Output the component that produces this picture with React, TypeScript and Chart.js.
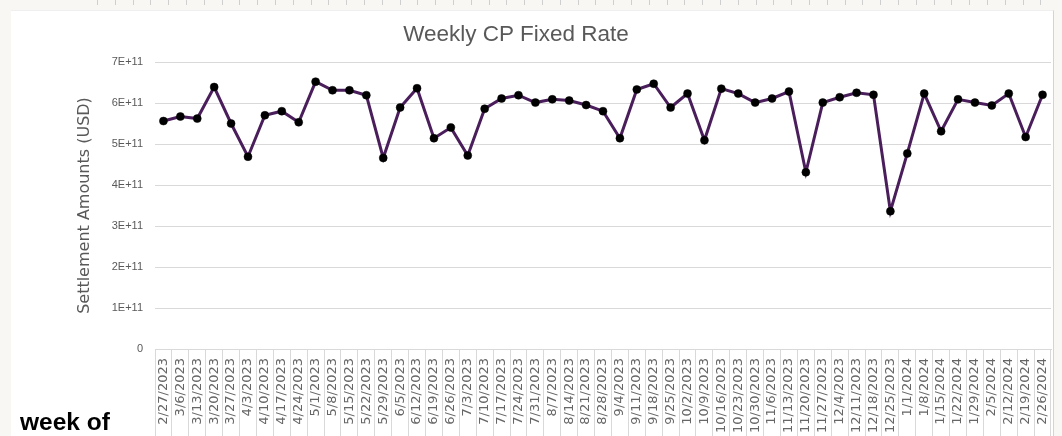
import React, { useEffect, useRef } from 'react';
import { Chart, registerables } from 'chart.js';

Chart.register(...registerables);

const chartTitle = 'Weekly CP Fixed Rate';
const yAxisTitle = 'Settlement Amounts (USD)';
const xCaption = 'week of';

const weeks = [
  '2/27/2023', '3/6/2023', '3/13/2023', '3/20/2023', '3/27/2023', '4/3/2023', '4/10/2023',
  '4/17/2023', '4/24/2023', '5/1/2023', '5/8/2023', '5/15/2023', '5/22/2023', '5/29/2023',
  '6/5/2023', '6/12/2023', '6/19/2023', '6/26/2023', '7/3/2023', '7/10/2023', '7/17/2023',
  '7/24/2023', '7/31/2023', '8/7/2023', '8/14/2023', '8/21/2023', '8/28/2023', '9/4/2023',
  '9/11/2023', '9/18/2023', '9/25/2023', '10/2/2023', '10/9/2023', '10/16/2023', '10/23/2023',
  '10/30/2023', '11/6/2023', '11/13/2023', '11/20/2023', '11/27/2023', '12/4/2023', '12/11/2023',
  '12/18/2023', '12/25/2023', '1/1/2024', '1/8/2024', '1/15/2024', '1/22/2024', '1/29/2024',
  '2/5/2024', '2/12/2024', '2/19/2024', '2/26/2024',
];

const settlement = [
  5.56e11, 5.67e11, 5.62e11, 6.39e11, 5.50e11, 4.69e11, 5.70e11,
  5.80e11, 5.53e11, 6.52e11, 6.31e11, 6.31e11, 6.19e11, 4.66e11,
  5.89e11, 6.36e11, 5.14e11, 5.40e11, 4.72e11, 5.86e11, 6.11e11,
  6.19e11, 6.01e11, 6.09e11, 6.06e11, 5.95e11, 5.80e11, 5.14e11,
  6.33e11, 6.47e11, 5.89e11, 6.23e11, 5.09e11, 6.35e11, 6.23e11,
  6.01e11, 6.11e11, 6.28e11, 4.31e11, 6.01e11, 6.14e11, 6.25e11,
  6.20e11, 3.36e11, 4.77e11, 6.23e11, 5.31e11, 6.09e11, 6.01e11,
  5.94e11, 6.23e11, 5.17e11, 6.20e11,
];

const yTickLabels = ['0', '1E+11', '2E+11', '3E+11', '4E+11', '5E+11', '6E+11', '7E+11'];
const yMin = 0;
const yMax = 7e11;
const yStep = 1e11;

export default function App() {
  const canvasRef = useRef<HTMLCanvasElement | null>(null);

  useEffect(() => {
    if (!canvasRef.current) return;
    const chart = new Chart(canvasRef.current, {
      type: 'line',
      data: {
        labels: weeks,
        datasets: [
          {
            label: 'Settlement',
            data: settlement,
            borderColor: '#4a1d5b',
            borderWidth: 3,
            pointRadius: 4,
            pointBackgroundColor: '#000000',
            pointBorderColor: '#000000',
            pointBorderWidth: 0.5,
            tension: 0,
          },
        ],
      },
      options: {
        responsive: false,
        animation: false,
        devicePixelRatio: 1,
        layout: { padding: { left: 71, right: 11, top: 62, bottom: 0 } },
        plugins: {
          legend: { display: false },
          tooltip: { enabled: false },
          title: { display: false },
        },
        scales: {
          x: {
            type: 'category',
            offset: true,
            grid: {
              display: true,
              offset: true,
              drawOnChartArea: false,
              drawTicks: true,
              tickLength: 87,
              color: '#d9d9d9',
              lineWidth: 1,
            },
            border: { display: true, color: '#d9d9d9', width: 1 },
            ticks: {
              autoSkip: false,
              minRotation: 90,
              maxRotation: 90,
              padding: -78,
              color: '#666666',
              font: { family: "'DejaVu Sans'", size: 13 },
            },
            afterFit: (scale: any) => {
              scale.height = 87;
            },
          },
          y: {
            min: yMin,
            max: yMax,
            grid: { color: '#d9d9d9', lineWidth: 1, drawTicks: false, tickLength: 0 },
            border: { display: false },
            ticks: {
              stepSize: yStep,
              padding: 12,
              color: '#595959',
              font: { family: "'Liberation Sans'", size: 11 },
              callback: (_v: any, i: number) => yTickLabels[i],
            },
            title: {
              display: true,
              text: yAxisTitle,
              color: '#595959',
              font: { family: "'DejaVu Sans'", size: 16 },
              padding: { top: 4, bottom: 4 },
            },
            afterFit: (scale: any) => {
              scale.width = 84;
            },
          },
        },
      },
    });
    return () => chart.destroy();
  }, []);

  return (
    <div
      style={{
        position: 'fixed',
        left: 0,
        top: 0,
        width: 1062,
        height: 436,
        background: '#f8f7f3',
        overflow: 'hidden',
      }}
    >
      <div
        style={{
          position: 'absolute',
          left: 97,
          top: 0,
          width: 957,
          height: 5,
          backgroundImage:
            'repeating-linear-gradient(to right, #cfcfcf 0px, #cfcfcf 1px, transparent 1px, transparent 17.8px)',
        }}
      />
      <div
        style={{
          position: 'absolute',
          left: 11,
          top: 10,
          width: 1042,
          height: 440,
          background: '#ffffff',
          borderRight: '1px solid #d4d4d4',
          borderTop: '1px solid #efefef',
        }}
      />
      <canvas
        ref={canvasRef}
        width={1062}
        height={436}
        style={{ position: 'absolute', left: 0, top: 0, width: 1062, height: 436 }}
      />
      <div
        style={{
          position: 'absolute',
          left: 316,
          width: 400,
          top: 22.7,
          textAlign: 'center',
          fontFamily: "'Liberation Sans', Arial, sans-serif",
          fontSize: 22.5,
          lineHeight: 1,
          color: '#595959',
          whiteSpace: 'nowrap',
        }}
      >
        {chartTitle}
      </div>
      <div
        style={{
          position: 'absolute',
          left: 20,
          top: 410,
          fontFamily: "'Liberation Sans', Arial, sans-serif",
          fontWeight: 'bold',
          fontSize: 24.5,
          lineHeight: 1,
          color: '#000000',
          whiteSpace: 'nowrap',
        }}
      >
        {xCaption}
      </div>
    </div>
  );
}
